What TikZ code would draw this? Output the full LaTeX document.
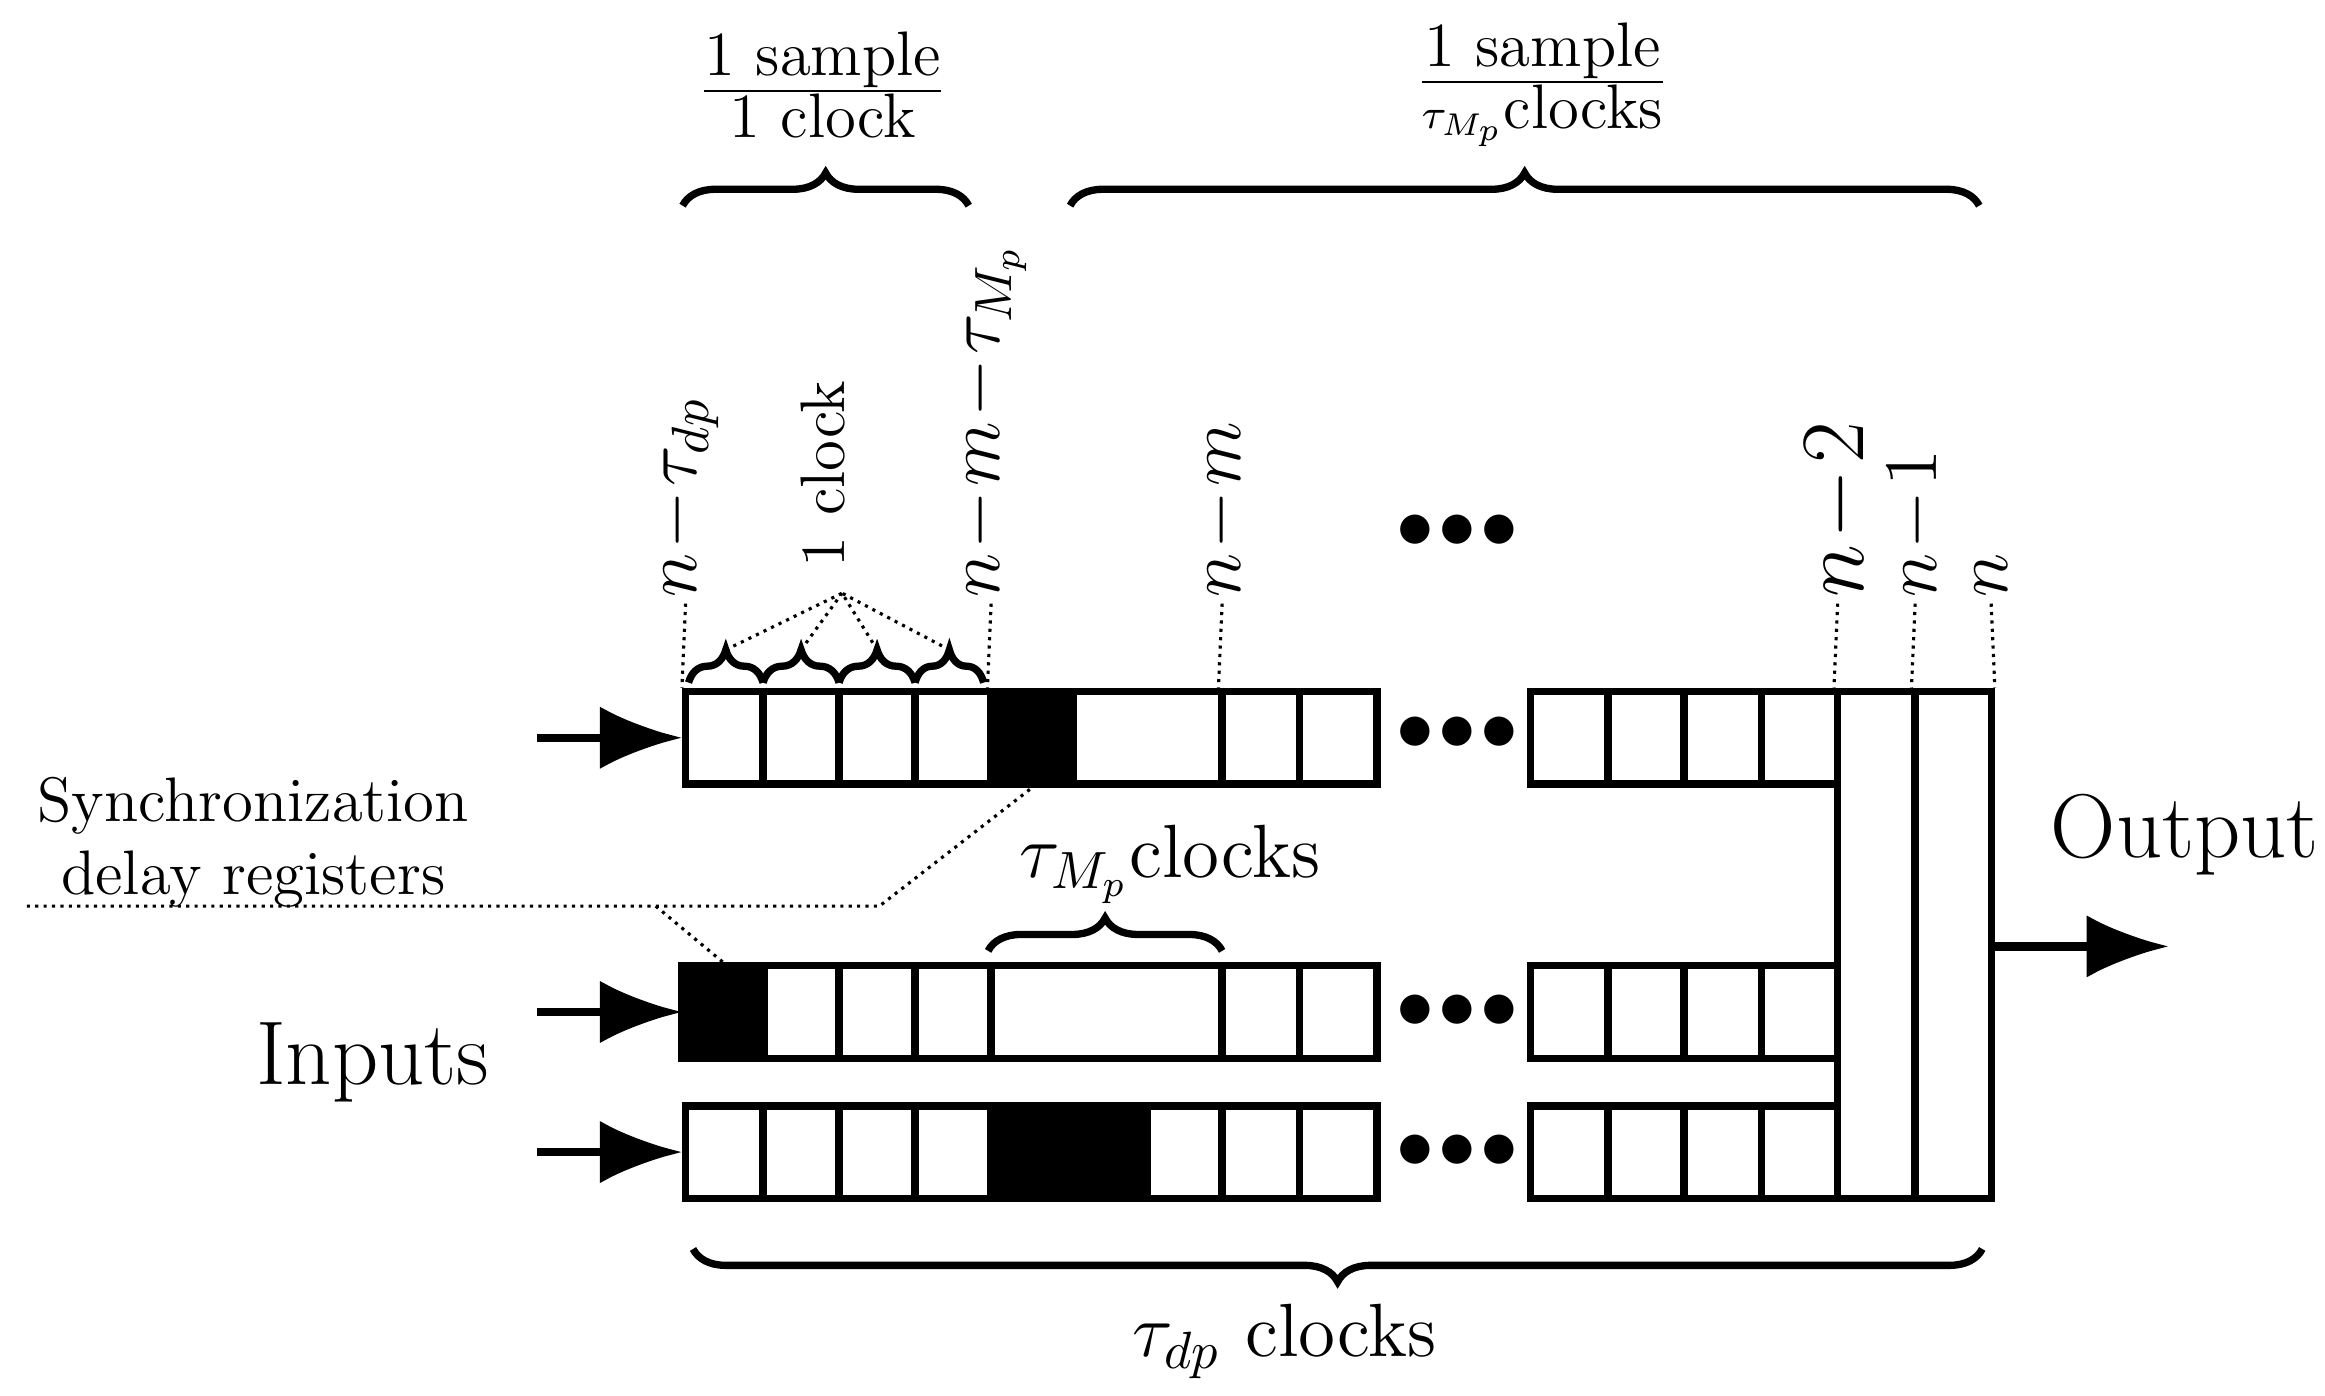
\documentclass[tikz,border=0pt]{standalone}
\usetikzlibrary{decorations.pathreplacing,arrows.meta}
\begin{document}
\begin{tikzpicture}[x=0.01cm,y=-0.01cm,
  cell/.style={draw,line width=1.4pt,inner sep=0pt,minimum height=0.62cm},
  blk/.style={cell,fill=black},
  inarr/.style={-{Latex[length=0.55cm,width=0.42cm]},line width=1.6pt},
  dots/.style={font=\Large,inner sep=0pt},
  dotl/.style={densely dotted,line width=0.6pt},
  br/.style={decorate,decoration={brace,amplitude=0.22cm},line width=1.4pt},
  lab/.style={rotate=90,anchor=west,font=\Large,inner sep=1pt}]
\useasboundingbox (0,0) rectangle (1560,936);
\foreach \r/\y in {1/495,2/679,3/773}{
  \foreach \i/\a/\b in {1/460/512,2/512/563,3/563/614,4/614/665,7/820/872,8/872/924,9/1027/1079,10/1079/1130,11/1130/1182,12/1182/1233}{
    \node[cell,minimum width={(\b-\a)*0.01cm}] (r\r c\i) at ({(\a+\b)/2},\y) {};}
}
\node[blk,minimum width=0.55cm] (r1c5) at (692.5,495) {};
\node[cell,minimum width=1.0cm] (r1c6) at (770,495) {};
\node[cell,minimum width=1.55cm] (r2c5) at (742.5,679) {};
\node[blk,minimum width=0.55cm] (r2c1b) at (485,679) {};
\node[blk,minimum width=0.55cm] (r3c5) at (692.5,773) {};
\node[blk,minimum width=0.5cm] (r3c6) at (745,773) {};
\node[cell,minimum width=0.5cm] (r3c6b) at (795,773) {};
\node[cell,minimum width=0.52cm,minimum height=3.4cm] (vA) at (1259,634) {};
\node[cell,minimum width=0.51cm,minimum height=3.4cm] (vB) at (1310.5,634) {};
\foreach \r/\y in {1/495,2/679,3/773}{
  \coordinate (in\r) at (360,\y);
  \draw[inarr] (in\r) -- (r\r c1.west);}
\coordinate (outE) at (1455,635);
\draw[inarr] (vB.east|-outE) -- (outE);
\node[font=\LARGE] (out) at (1466,560) {Output};
\node[font=\LARGE] (inp) at (250,713) {Inputs};
\foreach \y in {357,492,679,773}{\node[dots] at (978,\y) {$\bullet\!\bullet\!\bullet$};}
\node[font=\large,align=center] (sync) at (170,565) {Synchronization\\delay registers};
\coordinate (s0) at (18,608); \coordinate (s1) at (590,608); \coordinate (s2) at (440,608);
\draw[dotl] (s0) -- (s1) -- (r1c5.south);
\draw[dotl] (s2) -- (r2c1b.north);
\node[lab] (l1) at (460,405) {$n\!-\!\tau_{dp}$};
\node[lab] (l2) at (665,405) {$n\!-\!m\!-\!\tau_{M_p}$};
\node[lab] (l3) at (820,405) {$n\!-\!m$};
\node[lab,font=\LARGE] (l4) at (1233,405) {$n\!-\!2$};
\node[lab] (l5) at (1285,405) {$n\!-\!1$};
\node[lab] (l6) at (1336,405) {$n$};
\draw[dotl] (l1.west) -- (r1c1.north west);
\draw[dotl] (l2.west) -- (r1c5.north west);
\draw[dotl] (l3.west) -- (r1c7.north west);
\draw[dotl] (l4.west) -- (vA.north west);
\draw[dotl] (l5.west) -- (vB.north west);
\draw[dotl] (l6.west) -- (vB.north east);
\node[rotate=90,font=\large,anchor=center] (clk) at (552,318) {1 clock};
\coordinate (ct) at (565,398);
\foreach \a/\b in {462/512,512/563,563/614,614/660}{
  \draw[br] (\a,458) -- (\b,458);
  \draw[dotl] ({(\a+\b)/2},436) -- (ct);}
\draw[br] (458,138) -- (650,138);
\node[font=\large] at (552,57) {$\frac{\mbox{1 sample}}{\mbox{1 clock}}$};
\draw[br] (718,138) -- (1328,138);
\node[font=\large] at (1035,57) {$\frac{\mbox{1 sample}}{\tau_{M_p}\mbox{clocks}}$};
\draw[br] (663,638) -- (820,638);
\node[font=\Large] at (785,580) {$\tau_{M_p}$clocks};
\draw[br] (1330,838) -- (465,838);
\node[font=\Large] at (862,900) {$\tau_{dp}$ clocks};
\end{tikzpicture}
\end{document}
